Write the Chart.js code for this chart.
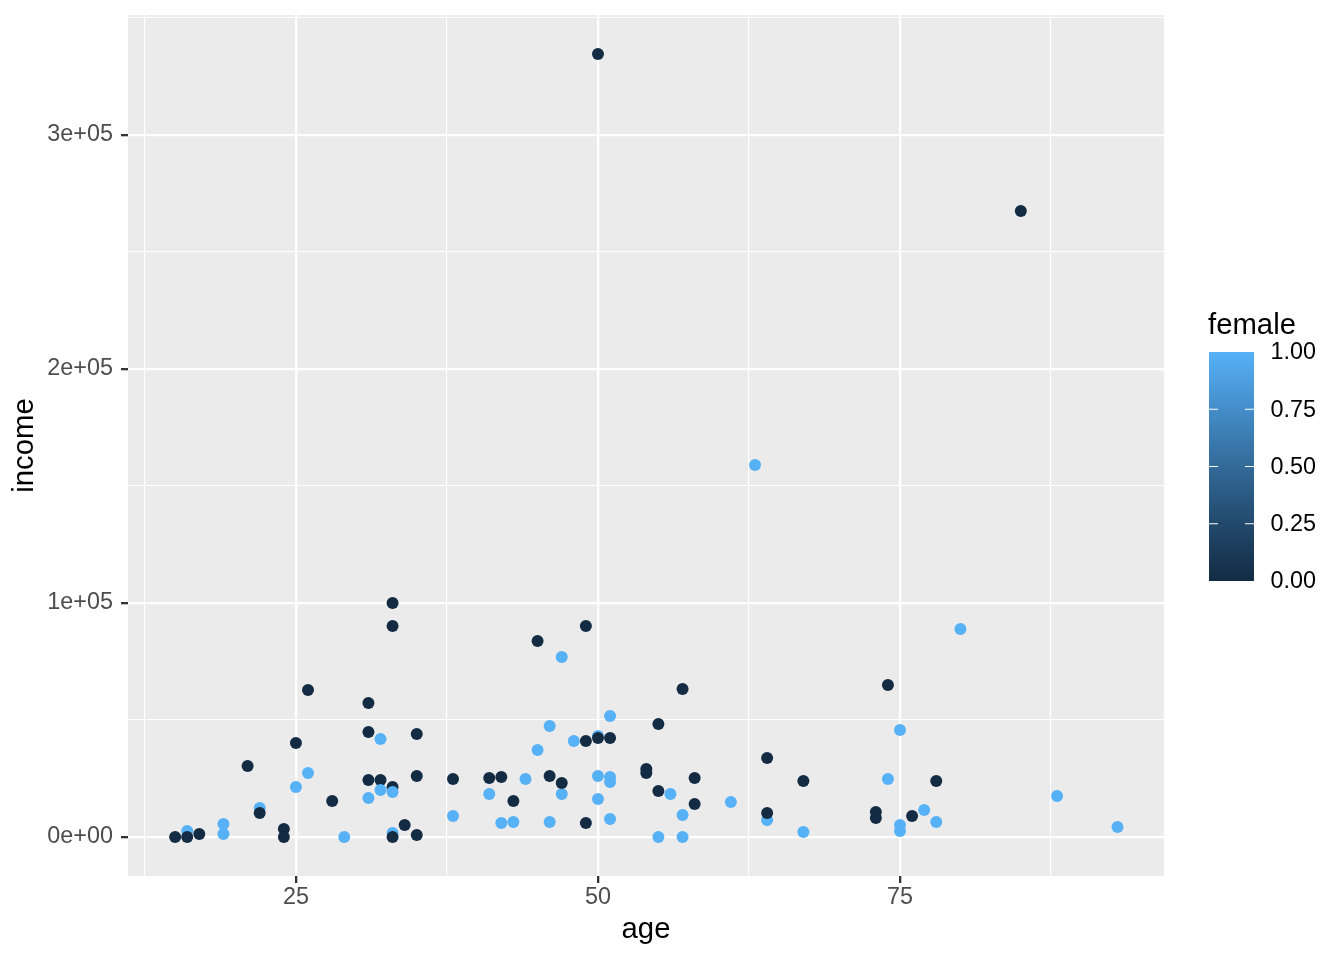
<!DOCTYPE html>
<html>
<head>
<meta charset="utf-8">
<script src="https://cdn.jsdelivr.net/npm/chart.js@4"></script>
<style>
  html, body { margin: 0; padding: 0; background: #ffffff; }
  #wrap { position: relative; width: 1344px; height: 960px; }
</style>
</head>
<body>
<div id="wrap"><canvas id="c" width="1344" height="960"></canvas></div>
<script>
// ---- data ----
const ages = [
  16,19,19,22,25,26,29,31,32,33,38,41,42,43,44,45,46,46,47,47,48,50,50,50,51,51,51,51,55,56,57,57,61,63,64,67,74,75,75,75,77,78,80,88,93,
  15,16,17,21,22,24,24,25,26,28,31,31,31,32,33,33,33,33,34,35,35,35,38,41,42,43,45,46,47,49,49,49,50,50,51,54,54,55,55,57,58,58,64,64,67,73,73,74,76,78,85,
  32,33
];
const incomes = [
  2600,5600,1300,12400,21400,27400,0,16700,41900,1700,9000,18400,6000,6400,24800,37200,47400,6400,76900,18400,41000,26100,16200,43200,51700,25600,23500,7700,0,18400,9400,0,15000,159000,7300,2100,24800,45700,5100,2600,11500,6400,88900,17500,4300,
  0,0,1300,30300,10300,3400,0,40200,62800,15400,57300,44900,24400,24400,100000,90200,21400,0,5100,44000,26100,900,24800,25200,25600,15400,83800,26100,23100,90200,41000,6000,334600,42300,42300,29100,27400,48300,19700,63200,25200,14100,33800,10300,23900,10700,8100,65000,9000,23900,267500,
  20100,19200
];
const female = [
  1,1,1,1,1,1,1,1,1,1,1,1,1,1,1,1,1,1,1,1,1,1,1,1,1,1,1,1,1,1,1,1,1,1,1,1,1,1,1,1,1,1,1,1,1,
  0,0,0,0,0,0,0,0,0,0,0,0,0,0,0,0,0,0,0,0,0,0,0,0,0,0,0,0,0,0,0,0,0,0,0,0,0,0,0,0,0,0,0,0,0,0,0,0,0,0,0,
  1,1
];
const xTickValues = [12.5, 25, 37.5, 50, 62.5, 75, 87.5];
const xTickLabels = ['', '25', '', '50', '', '75', ''];
const yTickValues = [0, 50000, 100000, 150000, 200000, 250000, 300000, 350000];
const yTickLabels = ['0e+00', '', '1e+05', '', '2e+05', '', '3e+05', ''];
const legendValues = [0, 0.25, 0.5, 0.75, 1];
const legendLabels = ['0.00', '0.25', '0.50', '0.75', '1.00'];

// ---- colour scale (ggplot default continuous) ----
const lowCol = [0x13, 0x2B, 0x43];
const highCol = [0x56, 0xB1, 0xF7];
const gradStops = ['#132B43', '#22496C', '#336A98', '#448DC9', '#56B1F7'];
function colourFor(t) {
  const c = lowCol.map((l, i) => Math.round(l + (highCol[i] - l) * t));
  return 'rgb(' + c.join(',') + ')';
}

const points = ages.map((a, i) => ({ x: a, y: incomes[i] }));
const pointColours = female.map(colourFor);

const FONT = '"Liberation Sans", Arial, Helvetica, sans-serif';
const TICK_SIZE = 23.4;
const TITLE_SIZE = 29.3;

const panelBg = {
  id: 'panelBg',
  beforeDraw(chart) {
    const { ctx, chartArea: a } = chart;
    ctx.save();
    ctx.fillStyle = '#EBEBEB';
    ctx.fillRect(a.left, a.top, a.right - a.left, a.bottom - a.top);
    ctx.restore();
  }
};

const colourBar = {
  id: 'colourBar',
  afterDraw(chart) {
    const ctx = chart.ctx;
    const x0 = 1209, w = 45, yTop = 352, yBot = 581;
    ctx.save();
    const g = ctx.createLinearGradient(0, yBot, 0, yTop);
    gradStops.forEach((c, i) => g.addColorStop(i / (gradStops.length - 1), c));
    ctx.fillStyle = g;
    ctx.fillRect(x0, yTop, w, yBot - yTop);
    ctx.strokeStyle = '#ffffff';
    ctx.lineWidth = 1.2;
    ctx.font = TICK_SIZE + 'px ' + FONT;
    ctx.fillStyle = '#000000';
    ctx.textBaseline = 'middle';
    ctx.textAlign = 'left';
    legendValues.forEach((v, i) => {
      const y = yBot - v * (yBot - yTop);
      if (v > 0 && v < 1) {
        ctx.beginPath();
        ctx.moveTo(x0, y); ctx.lineTo(x0 + 9, y);
        ctx.moveTo(x0 + w - 9, y); ctx.lineTo(x0 + w, y);
        ctx.stroke();
      }
      ctx.fillText(legendLabels[i], 1270.5, y + 1);
    });
    ctx.font = TITLE_SIZE + 'px ' + FONT;
    ctx.textBaseline = 'alphabetic';
    ctx.fillText('female', 1208, 334);
    ctx.restore();
  }
};

new Chart(document.getElementById('c'), {
  type: 'scatter',
  data: {
    datasets: [{
      data: points,
      backgroundColor: pointColours,
      borderWidth: 0,
      pointRadius: 6,
      pointHoverRadius: 6
    }]
  },
  options: {
    responsive: false,
    animation: false,
    events: [],
    layout: { autoPadding: false, padding: { left: 0, right: 180, top: 15, bottom: 0 } },
    plugins: { legend: { display: false }, tooltip: { enabled: false } },
    scales: {
      x: {
        type: 'linear',
        min: 11.1,
        max: 96.85,
        afterBuildTicks(s) { s.ticks = xTickValues.map(v => ({ value: v })); },
        afterFit(s) { s.height = 84; s.paddingLeft = 0; s.paddingRight = 0; },
        border: { display: false },
        grid: {
          color: '#ffffff',
          lineWidth: (c) => (xTickLabels[c.index] ? 2.3 : 1.1),
          drawTicks: true,
          tickLength: 7,
          tickWidth: 2.3,
          tickColor: (c) => (xTickLabels[c.index] ? '#333333' : 'rgba(0,0,0,0)')
        },
        ticks: {
          autoSkip: false,
          maxRotation: 0,
          padding: 0.5,
          color: '#4D4D4D',
          font: { family: FONT, size: TICK_SIZE },
          callback: (v, i) => xTickLabels[i]
        },
        title: {
          display: true,
          text: 'age',
          color: '#000000',
          font: { family: FONT, size: TITLE_SIZE },
          padding: { top: 0, bottom: 12.6 }
        }
      },
      y: {
        type: 'linear',
        min: -16667,
        max: 351282,
        afterBuildTicks(s) { s.ticks = yTickValues.map(v => ({ value: v })); },
        afterFit(s) { s.width = 128; s.paddingTop = 0; s.paddingBottom = 0; },
        border: { display: false },
        grid: {
          color: '#ffffff',
          lineWidth: (c) => (yTickLabels[c.index] ? 2.3 : 1.1),
          drawTicks: true,
          tickLength: 7,
          tickWidth: 2.3,
          tickColor: (c) => (yTickLabels[c.index] ? '#333333' : 'rgba(0,0,0,0)')
        },
        ticks: {
          autoSkip: false,
          padding: 8,
          color: '#4D4D4D',
          font: { family: FONT, size: TICK_SIZE },
          callback: (v, i) => yTickLabels[i]
        },
        title: {
          display: true,
          text: 'income',
          color: '#000000',
          font: { family: FONT, size: TITLE_SIZE },
          padding: { top: 7, bottom: 0 }
        }
      }
    }
  },
  plugins: [panelBg, colourBar]
});
</script>
</body>
</html>
